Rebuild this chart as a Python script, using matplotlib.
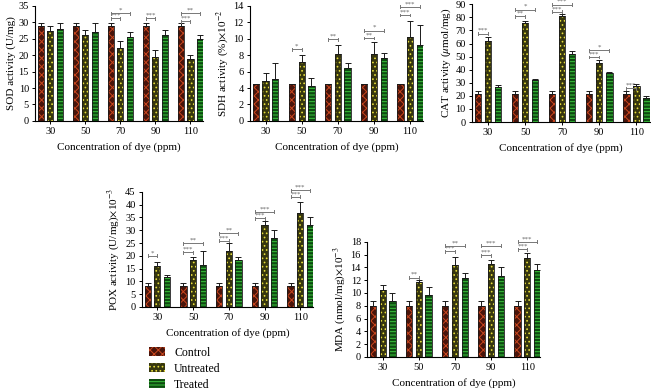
import numpy as np
import matplotlib
matplotlib.use("Agg")
import matplotlib.pyplot as plt
from matplotlib.patches import Patch

plt.rcParams["font.family"] = ["Liberation Serif", "DejaVu Serif"]
plt.rcParams["mathtext.fontset"] = "stix"
plt.rcParams["hatch.linewidth"] = 0.7

# ==========================================================
# Données
# ==========================================================
conc = ["30", "50", "70", "90", "110"]
groupes = ["Control", "Untreated", "Treated"]

# SOD (U/mg)
sod_ctrl = [28.8, 28.8, 28.8, 28.8, 28.8]
sod_ctrl_err = [1.0, 1.0, 1.0, 1.0, 1.0]
sod_untr = [27.2, 26.2, 22.1, 19.5, 18.8]
sod_untr_err = [1.6, 1.6, 2.3, 2.2, 1.1]
sod_trt = [28.0, 27.1, 25.4, 26.2, 24.8]
sod_trt_err = [1.8, 2.6, 1.7, 1.6, 1.2]
sod_sig = [(2, 0, 1, 31.2, "***"), (2, 0, 2, 32.7, "*"),
           (3, 0, 1, 31.2, "***"),
           (4, 0, 1, 30.3, "***"), (4, 0, 2, 32.7, "**")]

# SDH (%) x10^-2
sdh_ctrl = [4.5, 4.5, 4.5, 4.5, 4.5]
sdh_ctrl_err = [0.05, 0.05, 0.05, 0.05, 0.05]
sdh_untr = [4.8, 7.2, 8.1, 8.1, 10.2]
sdh_untr_err = [1.05, 0.8, 1.1, 1.5, 2.0]
sdh_trt = [5.1, 4.2, 6.4, 7.6, 9.2]
sdh_trt_err = [2.0, 1.0, 0.7, 0.7, 2.5]
sdh_sig = [(1, 0, 1, 8.7, "*"),
           (2, 0, 1, 9.95, "**"),
           (3, 0, 1, 10.1, "**"), (3, 0, 2, 11.0, "*"),
           (4, 0, 1, 12.9, "***"), (4, 0, 2, 13.9, "***")]

# CAT (umol/mg)
cat_ctrl = [21.8, 21.8, 21.8, 21.8, 21.8]
cat_ctrl_err = [1.8, 1.8, 1.8, 1.8, 1.8]
cat_untr = [62.0, 75.5, 81.0, 45.4, 27.6]
cat_untr_err = [3.0, 2.0, 1.3, 1.8, 1.7]
cat_trt = [27.0, 32.3, 52.0, 37.8, 18.6]
cat_trt_err = [1.3, 0.8, 2.5, 0.8, 1.3]
cat_sig = [(0, 0, 1, 67.6, "***"),
           (1, 0, 1, 80.9, "**"), (1, 0, 2, 86.0, "*"),
           (2, 0, 1, 84.2, "***"), (2, 0, 2, 89.8, "***"),
           (3, 0, 1, 49.7, "***"), (3, 0, 2, 54.8, "*"),
           (4, 0, 1, 25.8, "***")]

# POX (U/mg) x10^-3
pox_ctrl = [8.0, 8.0, 8.0, 8.0, 8.0]
pox_ctrl_err = [1.5, 1.5, 1.5, 1.5, 1.5]
pox_untr = [16.1, 18.2, 22.0, 32.0, 36.6]
pox_untr_err = [1.5, 1.5, 3.0, 1.7, 4.5]
pox_trt = [11.7, 16.5, 18.2, 27.1, 32.0]
pox_trt_err = [0.9, 5.2, 1.5, 3.0, 3.0]
pox_sig = [(0, 0, 1, 20.0, "*"),
           (1, 0, 1, 21.3, "***"), (1, 0, 2, 24.9, "**"),
           (2, 0, 1, 25.9, "***"), (2, 0, 2, 28.8, "**"),
           (3, 0, 1, 34.6, "***"), (3, 0, 2, 37.2, "***"),
           (4, 0, 1, 43.1, "***"), (4, 0, 2, 45.6, "***")]

# MDA (nmol/mg) x10^-3
mda_ctrl = [8.0, 8.0, 8.0, 8.0, 8.0]
mda_ctrl_err = [0.7, 0.7, 0.7, 0.7, 0.7]
mda_untr = [10.4, 11.7, 14.4, 14.6, 15.5]
mda_untr_err = [0.9, 0.4, 1.3, 0.5, 0.7]
mda_trt = [8.7, 9.7, 12.4, 12.7, 13.6]
mda_trt_err = [1.3, 1.3, 0.7, 1.3, 1.0]
mda_sig = [(1, 0, 1, 12.4, "**"),
           (2, 0, 1, 16.5, "***"), (2, 0, 2, 17.4, "**"),
           (3, 0, 1, 15.9, "***"), (3, 0, 2, 17.4, "***"),
           (4, 0, 1, 16.8, "***"), (4, 0, 2, 18.0, "***")]

# ==========================================================
# Style des barres
# ==========================================================
fond = ["#4a140a", "#36360e", "#0d4a10"]
motif = ["#c8461e", "#e6dc3c", "#3cc43c"]
hachures = ["xxxx", "....", "-----"]

largeur = 0.175
decalage = 0.27


def panneau(ax, valeurs, erreurs, ymax, ypas, ylabel, sig):
    x = np.arange(len(conc))
    for i in range(3):
        xi = x + (i - 1) * decalage
        ax.bar(xi, valeurs[i], largeur, color=fond[i], edgecolor=motif[i],
               hatch=hachures[i], linewidth=0, zorder=2)
        ax.bar(xi, valeurs[i], largeur, fill=False, edgecolor="#1a1a1a",
               linewidth=0.6, zorder=3)
        ax.errorbar(xi, valeurs[i],
                    yerr=[np.zeros(len(conc)), erreurs[i]],
                    fmt="none", ecolor="#1a1a1a", elinewidth=0.7,
                    capsize=2.0, capthick=0.7, zorder=4)

    # crochets de significativité
    for g, a, b, y, txt in sig:
        xa = g + (a - 1) * decalage
        xb = g + (b - 1) * decalage
        ax.plot([xa, xb], [y, y], color="#777777", linewidth=0.7,
                clip_on=False, zorder=5)
        ax.plot([xa, xa], [y - ymax * 0.012, y + ymax * 0.012],
                color="#777777", linewidth=0.7, clip_on=False, zorder=5)
        ax.plot([xb, xb], [y - ymax * 0.012, y + ymax * 0.012],
                color="#777777", linewidth=0.7, clip_on=False, zorder=5)
        ax.text((xa + xb) / 2, y + ymax * 0.004, txt, ha="center",
                va="bottom", fontsize=5, color="#666666", clip_on=False)

    ax.set_xlim(-0.43, 4.36)
    ax.set_ylim(0, ymax)
    ax.set_yticks(np.arange(0, ymax + 0.01, ypas))
    ax.set_xticks(x)
    ax.set_xticklabels(conc)
    ax.tick_params(axis="both", labelsize=7.5, length=2.5, width=0.7,
                   pad=2)
    ax.spines["top"].set_visible(False)
    ax.spines["right"].set_visible(False)
    ax.spines["left"].set_linewidth(0.8)
    ax.spines["bottom"].set_linewidth(0.8)
    ax.set_xlabel("Concentration of dye (ppm)", fontsize=8, labelpad=4)
    ax.set_ylabel(ylabel, fontsize=8, labelpad=2)


# ==========================================================
# Figure
# ==========================================================
fig = plt.figure(figsize=(6.51, 3.90), dpi=100)

ax1 = fig.add_axes([0.054, 0.690, 0.258, 0.295])
ax2 = fig.add_axes([0.384, 0.690, 0.266, 0.295])
ax3 = fig.add_axes([0.725, 0.687, 0.273, 0.302])
ax4 = fig.add_axes([0.218, 0.213, 0.263, 0.295])
ax5 = fig.add_axes([0.564, 0.085, 0.266, 0.295])

panneau(ax1, [sod_ctrl, sod_untr, sod_trt],
        [sod_ctrl_err, sod_untr_err, sod_trt_err],
        35, 5, "SOD activity (U/mg)", sod_sig)
panneau(ax2, [sdh_ctrl, sdh_untr, sdh_trt],
        [sdh_ctrl_err, sdh_untr_err, sdh_trt_err],
        14, 2, r"SDH activity (%)$\times$10$^{-2}$", sdh_sig)
panneau(ax3, [cat_ctrl, cat_untr, cat_trt],
        [cat_ctrl_err, cat_untr_err, cat_trt_err],
        90, 10, r"CAT activity ($\mu$mol/mg)", cat_sig)
panneau(ax4, [pox_ctrl, pox_untr, pox_trt],
        [pox_ctrl_err, pox_untr_err, pox_trt_err],
        45, 5, r"POX activity (U/mg)$\times$10$^{-3}$", pox_sig)
panneau(ax5, [mda_ctrl, mda_untr, mda_trt],
        [mda_ctrl_err, mda_untr_err, mda_trt_err],
        18, 2, r"MDA (nmol/mg)$\times$10$^{-3}$", mda_sig)

poignees = [Patch(facecolor=fond[i], edgecolor=motif[i], hatch=hachures[i],
                  linewidth=0) for i in range(3)]
fig.legend(poignees, groupes, loc="center left",
           bbox_to_anchor=(0.222, 0.054), frameon=False, fontsize=8.5,
           handlelength=1.3, handleheight=0.8, handletextpad=0.8,
           labelspacing=0.35, borderaxespad=0)

fig.savefig("out.png", dpi=100)
